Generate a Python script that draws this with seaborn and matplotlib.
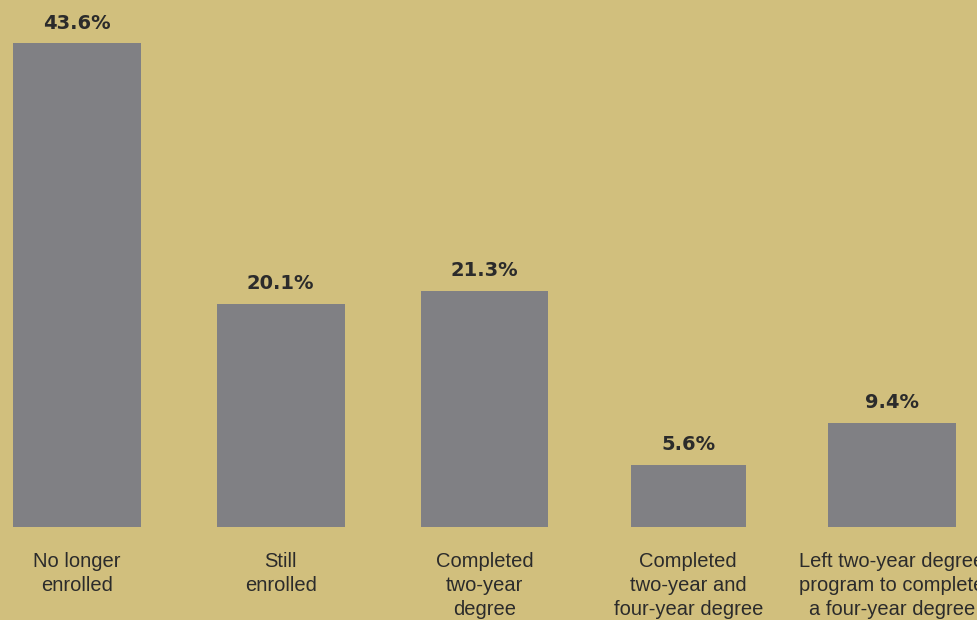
import matplotlib
matplotlib.use("Agg")
import matplotlib.pyplot as plt
import seaborn as sns
import pandas as pd

categories = ["No longer\nenrolled", "Still\nenrolled", "Completed\ntwo-year\ndegree",
              "Completed\ntwo-year and\nfour-year degree",
              "Left two-year degree\nprogram to complete\na four-year degree"]
values = [43.6, 20.1, 21.3, 5.6, 9.4]
value_labels = ["43.6%", "20.1%", "21.3%", "5.6%", "9.4%"]

bg = "#D1BF7D"
bar_color = "#808084"
text_color = "#2B2B2B"

sns.set_theme(style="white")
plt.rcParams["font.family"] = ["Liberation Sans", "DejaVu Sans"]

fig = plt.figure(figsize=(9.78, 6.2), dpi=100)
fig.patch.set_facecolor(bg)
ax = fig.add_axes([0, 93 / 620, 1, 527 / 620])
ax.set_facecolor(bg)

df = pd.DataFrame({"cat": categories, "val": values})
sns.barplot(data=df, x="cat", y="val", color=bar_color, saturation=1, width=0.628,
            linewidth=0, ax=ax)

# narrower fourth bar as in the reference
p = ax.patches[3]
cx = p.get_x() + p.get_width() / 2
p.set_width(0.564)
p.set_x(cx - 0.564 / 2)

ax.set_xlim(-77 / 203.75, (978 - 77) / 203.75)
ax.set_ylim(0, 527 / 11.1)

for i, (v, lab) in enumerate(zip(values, value_labels)):
    ax.annotate(lab, (i, v), xytext=(0, 7.5), textcoords="offset points",
                ha="center", va="bottom", fontsize=14, fontweight="bold",
                color=text_color, family=["DejaVu Sans"])

ax.set_xlabel("")
ax.set_ylabel("")
ax.set_yticks([])
ax.tick_params(axis="x", length=0, pad=18, labelsize=14.5, labelcolor=text_color)
for t in ax.get_xticklabels():
    t.set_linespacing(1.34)
    t.set_verticalalignment("top")
for s in ax.spines.values():
    s.set_visible(False)

fig.savefig("out.png", dpi=100, facecolor=bg)
